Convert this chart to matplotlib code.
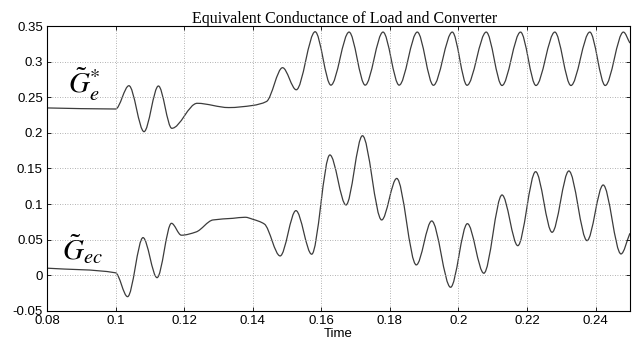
import numpy as np
import matplotlib
matplotlib.use('Agg')
import matplotlib.pyplot as plt
from matplotlib.path import Path
from matplotlib.patches import PathPatch
from matplotlib.ticker import FormatStrFormatter


# equivalent conductance of the converter reference (G_e*), knots at turning points
ge_t = [0.0800, 0.1000, 0.1039, 0.1083, 0.1125, 0.1164, 0.1238, 0.1330, 0.1400,
        0.1440, 0.1487, 0.1527, 0.1582, 0.1628, 0.1681, 0.1728, 0.1780, 0.1827,
        0.1880, 0.1927, 0.1982, 0.2025, 0.2081, 0.2127, 0.2181, 0.2226, 0.2281,
        0.2328, 0.2383, 0.2428, 0.2481, 0.2500]
ge_v = [0.2350, 0.2335, 0.2662, 0.2017, 0.2658, 0.2064, 0.2415, 0.2355, 0.2385,
        0.2440, 0.2915, 0.2605, 0.3420, 0.2670, 0.3415, 0.2670, 0.3415, 0.2670,
        0.3415, 0.2668, 0.3415, 0.2668, 0.3415, 0.2665, 0.3415, 0.2665, 0.3415,
        0.2665, 0.3415, 0.2665, 0.3415, 0.3260]

# equivalent conductance of load and converter (G_ec)
gec_t = [0.0800, 0.1000, 0.1035, 0.1080, 0.1121, 0.1163, 0.1192, 0.1235, 0.1284,
         0.1342, 0.1378, 0.1400, 0.1434, 0.1480, 0.1526, 0.1572, 0.1625, 0.1672,
         0.1720, 0.1776, 0.1820, 0.1877, 0.1922, 0.1977, 0.2026, 0.2074, 0.2127,
         0.2173, 0.2225, 0.2273, 0.2322, 0.2375, 0.2422, 0.2474, 0.2500]
gec_v = [0.0100, 0.0035, -0.0300, 0.0529, -0.0033, 0.0730, 0.0563, 0.0609, 0.0777,
         0.0800, 0.0815, 0.0787, 0.0720, 0.0272, 0.0908, 0.0296, 0.1690, 0.0988,
         0.1960, 0.0777, 0.1360, 0.0146, 0.0763, -0.0168, 0.0725, 0.0029, 0.1128,
         0.0416, 0.1455, 0.0604, 0.1465, 0.0487, 0.1268, 0.0300, 0.0590]

x_ticks = [0.08, 0.10, 0.12, 0.14, 0.16, 0.18, 0.20, 0.22, 0.24]
y_ticks = [-0.05, 0.0, 0.05, 0.10, 0.15, 0.20, 0.25, 0.30, 0.35]


def smooth_path(t, v):
    # monotone cubic (pchip-style) tangents, handed to matplotlib as bezier segments
    t = np.asarray(t, float)
    v = np.asarray(v, float)
    h = np.diff(t)
    d = np.diff(v) / h
    m = np.zeros_like(v)
    for k in range(1, len(v) - 1):
        if d[k - 1] * d[k] > 0:
            w1 = 2 * h[k] + h[k - 1]
            w2 = h[k] + 2 * h[k - 1]
            m[k] = (w1 + w2) / (w1 / d[k - 1] + w2 / d[k])
    m[0] = d[0]
    m[-1] = d[-1]
    verts = [(t[0], v[0])]
    codes = [Path.MOVETO]
    for k in range(len(h)):
        verts += [(t[k] + h[k] / 3, v[k] + m[k] * h[k] / 3),
                  (t[k + 1] - h[k] / 3, v[k + 1] - m[k + 1] * h[k] / 3),
                  (t[k + 1], v[k + 1])]
        codes += [Path.CURVE4] * 3
    return Path(verts, codes)


plt.rcParams['mathtext.fontset'] = 'stix'
line_color = '#3c3c3c'

fig = plt.figure(figsize=(6.35, 3.47), dpi=100)
ax = fig.add_axes([0.074, 0.104, 0.918, 0.821])

for t, v in [(ge_t, ge_v), (gec_t, gec_v)]:
    ax.add_patch(PathPatch(smooth_path(t, v), fill=False, edgecolor=line_color, lw=0.9))

ax.set_xlim(0.08, 0.25)
ax.set_ylim(-0.05, 0.35)
ax.set_xticks(x_ticks)
ax.set_yticks(y_ticks)
ax.xaxis.set_major_formatter(FormatStrFormatter('%g'))
ax.yaxis.set_major_formatter(FormatStrFormatter('%g'))
ax.tick_params(direction='in', top=True, right=True, length=3, width=0.6,
               labelsize=9.5, pad=3)
for lab in ax.get_xticklabels() + ax.get_yticklabels():
    lab.set_fontfamily('Liberation Sans')
for s in ax.spines.values():
    s.set_linewidth(0.8)

ax.grid(True, linestyle=(0, (1, 2)), color='#999999', linewidth=0.6)

ax.set_title('Equivalent Conductance of Load and Converter', fontfamily='Liberation Serif',
             fontsize=11.5, x=0.511, pad=2)
ax.set_xlabel('Time', fontfamily='Liberation Sans', fontsize=9.5, labelpad=1)

ax.text(0.0862, 0.256, r'$\tilde{G}_e^{*}$', fontsize=21, color='black')
ax.text(0.0845, 0.0215, r'$\tilde{G}_{ec}$', fontsize=21, color='black')

fig.savefig('out.png', dpi=100)
